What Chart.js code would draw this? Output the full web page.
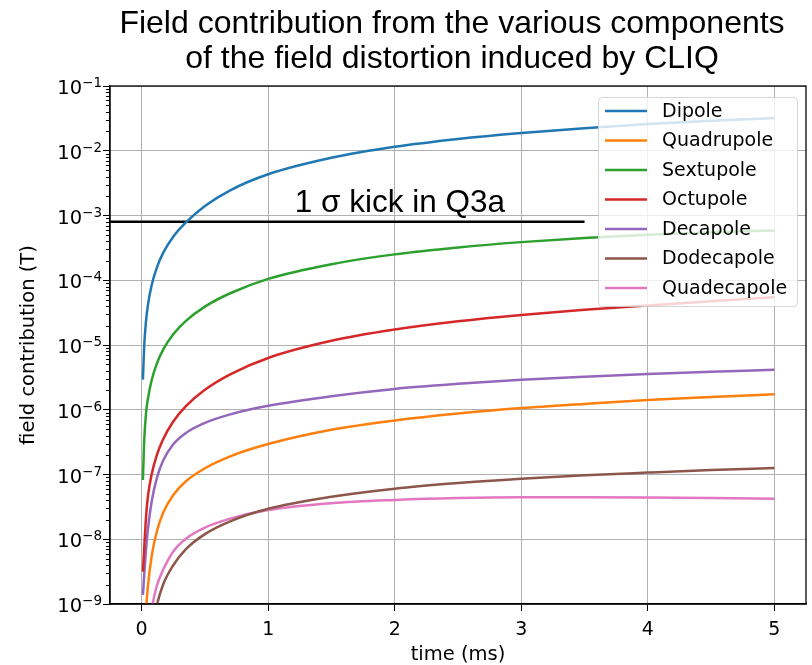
<!DOCTYPE html>
<html>
<head>
<meta charset="utf-8">
<script src="https://cdn.jsdelivr.net/npm/chart.js@4.4.1/dist/chart.umd.min.js"></script>
<style>
  html, body { margin: 0; padding: 0; background: #fff; }
</style>
</head>
<body>
<canvas id="Chart" width="812" height="665"></canvas>
<script>
// time in ms, shared by all components
const times = [0.01, 0.02, 0.035, 0.05, 0.08, 0.12, 0.17, 0.25, 0.35, 0.5, 0.7, 1.0, 1.5, 2, 2.5, 3, 3.5, 4, 4.5, 5];

// field contribution (T) per component
const dipole      = [2.92e-6, 9.5e-6, 2.39e-5, 4.16e-5, 8.5e-5, 1.57e-4, 2.65e-4, 4.7e-4, 7.8e-4, 1.4e-3, 2.45e-3, 4.33e-3, 7.78e-3, 1.15e-2, 1.52e-2, 1.88e-2, 2.23e-2, 2.58e-2, 2.9e-2, 3.21e-2];
const quadrupole  = [2.7e-11, 1.9e-10, 8.1e-10, 1.91e-9, 5.64e-9, 1.32e-8, 2.56e-8, 4.83e-8, 7.87e-8, 1.25e-7, 1.91e-7, 2.95e-7, 4.9e-7, 6.82e-7, 8.73e-7, 1.06e-6, 1.23e-6, 1.41e-6, 1.57e-6, 1.74e-6];
const sextupole   = [8.2e-8, 3.28e-7, 8.97e-7, 1.49e-6, 2.9e-6, 5.15e-6, 8.46e-6, 1.46e-5, 2.36e-5, 3.92e-5, 6.3e-5, 1.05e-4, 1.77e-4, 2.51e-4, 3.21e-4, 3.88e-4, 4.5e-4, 5.04e-4, 5.5e-4, 5.89e-4];
const octupole    = [3.16e-9, 7.1e-9, 2.24e-8, 4.68e-8, 1.02e-7, 1.99e-7, 3.51e-7, 6.59e-7, 1.14e-6, 2.04e-6, 3.53e-6, 6.31e-6, 1.16e-5, 1.73e-5, 2.32e-5, 2.91e-5, 3.5e-5, 4.09e-5, 4.75e-5, 5.45e-5];
const decapole    = [1.38e-9, 2.76e-9, 7.1e-9, 1.46e-8, 3.9e-8, 8.8e-8, 1.64e-7, 2.93e-7, 4.39e-7, 6.26e-7, 8.48e-7, 1.15e-6, 1.62e-6, 2.1e-6, 2.51e-6, 2.9e-6, 3.24e-6, 3.56e-6, 3.85e-6, 4.13e-6];
const dodecapole  = [5e-13, 5.6e-12, 3.3e-11, 9.8e-11, 3.6e-10, 9.5e-10, 2.0e-9, 3.97e-9, 7.03e-9, 1.2e-8, 1.89e-8, 2.95e-8, 4.52e-8, 6.03e-8, 7.36e-8, 8.59e-8, 9.72e-8, 1.07e-7, 1.17e-7, 1.26e-7];
const quadecapole = [1.9e-12, 1.7e-11, 9.1e-11, 2.45e-10, 8.3e-10, 1.9e-9, 3.37e-9, 6.49e-9, 1.02e-8, 1.51e-8, 2.08e-8, 2.82e-8, 3.6e-8, 4.04e-8, 4.32e-8, 4.44e-8, 4.44e-8, 4.4e-8, 4.32e-8, 4.22e-8];

const seriesNames  = ["Dipole", "Quadrupole", "Sextupole", "Octupole", "Decapole", "Dodecapole", "Quadecapole"];
const seriesValues = [dipole, quadrupole, sextupole, octupole, decapole, dodecapole, quadecapole];
const seriesColors = ["#1f77b4", "#ff7f0e", "#2ca02c", "#d62728", "#9467bd", "#8c564b", "#e377c2"];

// 1 sigma kick reference line
const kickLevel = 8e-4;
const kickTimes = [-0.3, 3.5];
const kickLabel = "1 σ kick in Q3a";
const kickLabelAt = [1.21, 1.13e-3];

const titleLines = ["Field contribution from the various components", "of the field distortion induced by CLIQ"];
const xTicks = [0, 1, 2, 3, 4, 5];
const yDecades = [-9, -8, -7, -6, -5, -4, -3, -2, -1];

const FONT = "DejaVu Sans";

const datasets = seriesNames.map((name, i) => ({
    label: name,
    data: times.map((t, j) => ({x: t, y: seriesValues[i][j]})),
    borderColor: seriesColors[i],
    backgroundColor: seriesColors[i],
    borderWidth: 2.5,
    pointRadius: 0,
    cubicInterpolationMode: "monotone",
    fill: false
}));
datasets.push({
    label: "kick",
    data: kickTimes.map(t => ({x: t, y: kickLevel})),
    borderColor: "#000",
    borderWidth: 2.5,
    pointRadius: 0,
    fill: false
});

const decor = {
    id: "decor",
    afterDraw(chart) {
        const {ctx, chartArea: a, scales: {x, y}} = chart;
        ctx.save();
        // frame
        ctx.strokeStyle = "#000";
        ctx.lineWidth = 1.3;
        ctx.strokeRect(a.left, a.top, a.right - a.left, a.bottom - a.top);
        // minor ticks on the log axis
        ctx.lineWidth = 1;
        ctx.beginPath();
        yDecades.slice(0, -1).forEach(e => {
            for (let m = 2; m <= 9; m++) {
                const py = Math.round(y.getPixelForValue(m * Math.pow(10, e))) + 0.5;
                ctx.moveTo(a.left - 4, py);
                ctx.lineTo(a.left, py);
            }
        });
        ctx.stroke();

        // decade labels 10^n with a raised exponent
        ctx.fillStyle = "#000";
        ctx.textBaseline = "alphabetic";
        ctx.textAlign = "left";
        yDecades.forEach(e => {
            const py = y.getPixelForValue(Math.pow(10, e));
            const expo = "\u2212" + Math.abs(e);
            ctx.font = "13.5px '" + FONT + "'";
            const ew = ctx.measureText(expo).width;
            ctx.font = "19.5px '" + FONT + "'";
            const bw = ctx.measureText("10").width;
            const right = a.left - 8;
            ctx.fillText("10", right - ew - bw, py + 8);
            ctx.font = "13.5px '" + FONT + "'";
            ctx.fillText(expo, right - ew, py + 1);
        });

        // title
        ctx.font = "32px 'Liberation Sans', Arial, sans-serif";
        ctx.textAlign = "center";
        const cx = (a.left + a.right) / 2 - 6;
        ctx.fillText(titleLines[0], cx, 33);
        ctx.fillText(titleLines[1], cx, 68);

        // kick annotation
        ctx.textAlign = "left";
        ctx.font = "31.5px 'Liberation Sans', Arial, sans-serif";
        ctx.fillText(kickLabel, x.getPixelForValue(kickLabelAt[0]), y.getPixelForValue(kickLabelAt[1]));

        // legend
        const lx = 598, ly = 97, lw = 199, lh = 209, r = 4;
        ctx.beginPath();
        ctx.roundRect(lx + 0.5, ly + 0.5, lw, lh, r);
        ctx.fillStyle = "rgba(255,255,255,0.8)";
        ctx.fill();
        ctx.strokeStyle = "rgba(204,204,204,0.8)";
        ctx.lineWidth = 1;
        ctx.stroke();
        ctx.font = "19px '" + FONT + "'";
        ctx.textBaseline = "middle";
        seriesNames.forEach((name, i) => {
            const ry = 111 + i * 29.5;
            ctx.strokeStyle = seriesColors[i];
            ctx.lineWidth = 2.5;
            ctx.beginPath();
            ctx.moveTo(605, ry);
            ctx.lineTo(647, ry);
            ctx.stroke();
            ctx.fillStyle = "#000";
            ctx.fillText(name, 662, ry + 1);
        });
        ctx.restore();
    }
};

new Chart("Chart", {
    type: "line",
    data: {datasets: datasets},
    options: {
        responsive: false,
        animation: false,
        devicePixelRatio: 1,
        layout: {padding: {top: 86, right: 6, left: 0, bottom: 0}},
        plugins: {
            legend: {display: false},
            title: {display: false},
            tooltip: {enabled: false}
        },
        scales: {
            x: {
                type: "linear",
                min: -0.25,
                max: 5.25,
                afterBuildTicks: s => { s.ticks = xTicks.map(v => ({value: v})); },
                afterFit: s => { s.height = 61; },
                ticks: {font: {family: FONT, size: 19}, color: "#000", padding: 8, maxRotation: 0},
                grid: {color: "#b0b0b0", lineWidth: 1, tickLength: 7, tickColor: "#000"},
                border: {color: "#000", width: 1.3},
                title: {display: true, text: "time (ms)", font: {family: FONT, size: 19.5, lineHeight: 1}, color: "#000", padding: {top: 0, bottom: 0}}
            },
            y: {
                type: "logarithmic",
                min: 1e-9,
                max: 1e-1,
                afterBuildTicks: s => { s.ticks = yDecades.map(e => ({value: Math.pow(10, e), major: true})); },
                afterFit: s => { s.width = 110; },
                ticks: {display: false},
                grid: {color: "#b0b0b0", lineWidth: 1, tickLength: 7, tickColor: "#000"},
                border: {color: "#000", width: 1.3},
                title: {display: true, text: "field contribution (T)", font: {family: FONT, size: 19.5, lineHeight: 1}, color: "#000", padding: {top: 19, bottom: 0}}
            }
        }
    },
    plugins: [decor]
});
</script>
</body>
</html>
